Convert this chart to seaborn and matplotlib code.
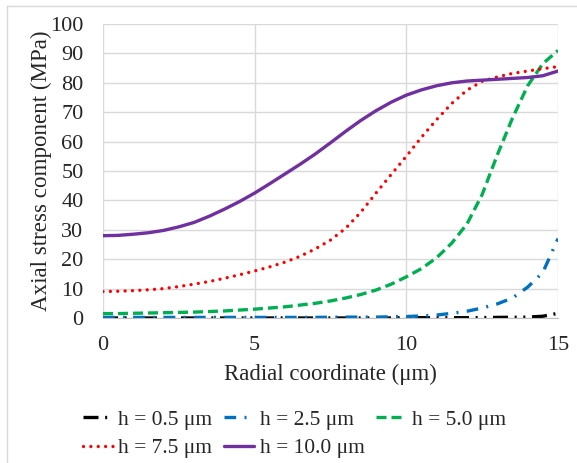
import numpy as np
import matplotlib
matplotlib.use("Agg")
import matplotlib.pyplot as plt
from matplotlib.lines import Line2D
import seaborn as sns

# values (radial coordinate in um, stress in MPa)
x_r = [0, 0.5, 1, 1.5, 2, 2.5, 3, 3.5, 4, 4.5, 5, 5.5, 6, 6.5, 7, 7.5,
       8, 8.5, 9, 9.5, 10, 10.5, 11, 11.5, 12, 12.5, 13, 13.5, 14, 14.5, 15]
h05 = [0, 0, 0, 0, 0, 0, 0, 0, 0, 0, 0, 0, 0, 0, 0, 0,
       0, 0, 0, 0, 0.1, 0.1, 0.1, 0.1, 0.1, 0.15, 0.2, 0.25, 0.3, 0.6, 1.6]
h25 = [0.2, 0.2, 0.2, 0.2, 0.2, 0.2, 0.2, 0.2, 0.2, 0.2, 0.2, 0.2, 0.2, 0.2, 0.2, 0.25,
       0.3, 0.3, 0.3, 0.4, 0.5, 0.7, 1.0, 1.6, 2.3, 3.4, 4.8, 6.8, 10.5, 15.5, 27]
h50 = [1.5, 1.5, 1.6, 1.7, 1.8, 1.9, 2.0, 2.2, 2.4, 2.7, 3.0, 3.4, 3.8, 4.4, 5.0, 5.8,
       6.8, 8.0, 9.5, 11.5, 14, 16.8, 20.5, 25.5, 32, 42, 55.5, 68, 79, 86.5, 91]
h75 = [9, 9.1, 9.3, 9.6, 10, 10.7, 11.5, 12.4, 13.5, 14.7, 16, 17.4, 19, 21, 23.5, 26.5,
       30.5, 36, 42.5, 48.8, 55, 61.5, 67.5, 73, 77.5, 80.5, 82, 83.2, 84, 84.8, 85.5]
h100 = [28, 28.1, 28.5, 29, 29.8, 31, 32.5, 34.6, 37, 39.6, 42.5, 45.7, 49, 52.3, 55.8, 59.6,
        63.5, 67.2, 70.5, 73.4, 75.8, 77.6, 79, 80, 80.6, 80.9, 81.2, 81.5, 81.8, 82.4, 84]

labels = ["h = 0.5 \u03bcm", "h = 2.5 \u03bcm", "h = 5.0 \u03bcm", "h = 7.5 \u03bcm", "h = 10.0 \u03bcm"]
series = [h05, h25, h50, h75, h100]
colors = ["#000000", "#0070C0", "#00B050", "#FF0000", "#7030A0"]
styles = [(0, (4.5, 2, 0.6, 2, 0.6, 2)), (0, (3.5, 2.5, 0.6, 2.5)), (0, (3, 1.5)), (0, (0.01, 2.2)), "-"]
caps = ["butt", "butt", "butt", "round", "butt"]

sns.set_style("white")
plt.rcParams["font.family"] = ["Liberation Serif", "DejaVu Serif"]

fig = plt.figure(figsize=(5.77, 4.63), dpi=100)
ax = fig.add_axes([103 / 577, 1 - 318 / 463, 455 / 577, 294 / 463])

handles = []
for y, lab, c, ls, cap in zip(series, labels, colors, styles, caps):
    sns.lineplot(x=x_r, y=y, ax=ax, color=c, linewidth=2.4, linestyle=ls,
                 dash_capstyle=cap, label=lab, legend=False)
    handles.append(ax.lines[-1])

ax.set_xlim(0, 15)
ax.set_ylim(0, 100)
ax.set_xticks([0, 5, 10, 15])
ax.set_yticks(range(0, 101, 10))
ax.grid(True, color="#d9d9d9", linewidth=1)
ax.set_axisbelow(True)
for s in ["top", "right", "left"]:
    ax.spines[s].set_visible(False)
ax.spines["bottom"].set_color("#bfbfbf")
ax.tick_params(axis="both", length=0, labelsize=16)
ax.tick_params(axis="y", pad=14)
ax.tick_params(axis="x", pad=13)
ax.set_xlabel("Radial coordinate (\u03bcm)", fontsize=16.5, labelpad=6)
ax.set_ylabel("Axial stress component (MPa)", fontsize=16.6, labelpad=-1)

# order so that legend fills row by row
order = [0, 3, 1, 4, 2]
fig.legend([handles[i] for i in order], [labels[i] for i in order], ncol=3,
           loc="upper left", bbox_to_anchor=(74 / 577, 1 - 401 / 463), frameon=False,
           fontsize=15.5, handlelength=1.4, handletextpad=0.25, columnspacing=0.55,
           labelspacing=0.4, borderaxespad=0)

# faint frame on the left and top, as in the original
fig.add_artist(Line2D([7 / 577, 7 / 577], [0, 1 - 6 / 463], color="#d9d9d9", linewidth=1))
fig.add_artist(Line2D([7 / 577, 1], [1 - 6 / 463, 1 - 6 / 463], color="#d9d9d9", linewidth=1))

fig.savefig("out.png", dpi=100)
